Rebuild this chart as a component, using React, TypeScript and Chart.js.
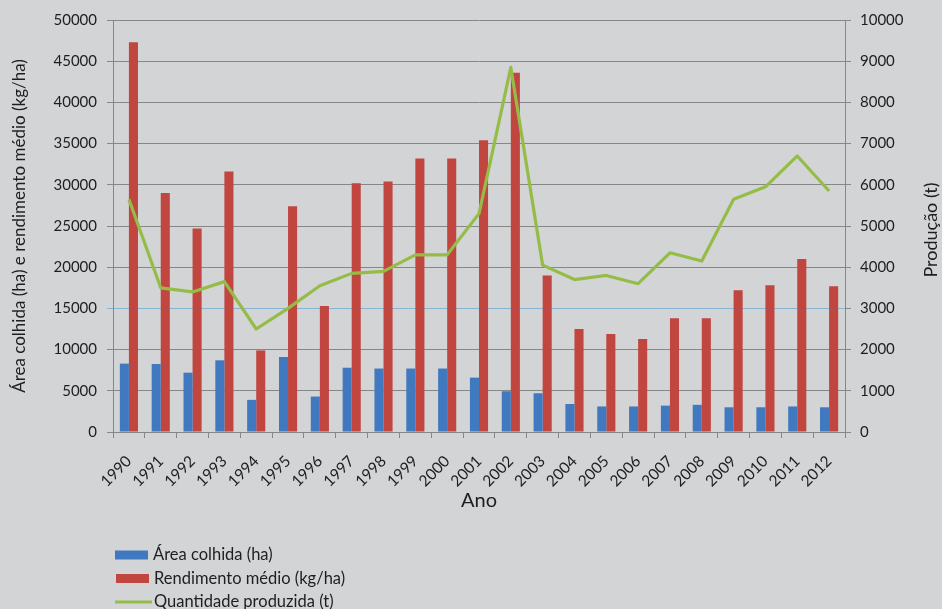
import React, { useEffect, useRef } from "react";
import { Chart, registerables } from "chart.js";

Chart.register(...registerables);

const years = ["1990","1991","1992","1993","1994","1995","1996","1997","1998","1999","2000","2001","2002","2003","2004","2005","2006","2007","2008","2009","2010","2011","2012"];
const areaColhida = [8300,8250,7200,8700,3900,9100,4300,7800,7700,7700,7700,6600,4950,4700,3400,3100,3100,3200,3300,3000,3000,3100,3000];
const rendimentoMedio = [47300,29000,24700,31600,9900,27400,15300,30200,30400,33200,33200,35400,43600,19000,12500,11900,11300,13800,13800,17200,17800,21000,17700];
const quantidadeProduzida = [5650,3500,3400,3650,2500,3000,3550,3850,3900,4300,4300,5300,8850,4050,3700,3800,3600,4350,4150,5650,5950,6700,5850];

const labelArea = "Área colhida (ha)";
const labelRend = "Rendimento médio (kg/ha)";
const labelQtd = "Quantidade produzida (t)";
const titleLeft = "Área colhida (ha) e rendimento médio (kg/ha)";
const titleRight = "Produção (t)";
const titleX = "Ano";

const FONT = "Lato, 'Open Sans', sans-serif";
const TEXT = "#1e1e1e";
const GRID = "#878787";

const legendPlugin = {
  id: "customLegend",
  afterDraw(chart: any) {
    const ctx = chart.ctx;
    ctx.save();
    ctx.font = `16.5px ${FONT}`;
    ctx.fillStyle = TEXT;
    ctx.textBaseline = "middle";
    const rows = [555, 578.5, 602];
    chart.data.datasets.forEach((ds: any, i: number) => {
      const y = rows[i];
      if (ds.type === "line") {
        ctx.strokeStyle = ds.borderColor;
        ctx.lineWidth = 3;
        ctx.beginPath();
        ctx.moveTo(115, y);
        ctx.lineTo(152, y);
        ctx.stroke();
      } else {
        ctx.fillStyle = ds.backgroundColor;
        ctx.fillRect(i === 0 ? 115 : 116, y - 4.5, 33, 9);
      }
      ctx.fillStyle = TEXT;
      ctx.textAlign = "left";
      ctx.fillText(ds.label, i === 0 ? 153 : 154, y);
    });
    // right axis title, reading bottom-to-top
    const area = chart.chartArea;
    ctx.translate(931, (area.top + area.bottom) / 2 + 4);
    ctx.rotate(-Math.PI / 2);
    ctx.font = `18px ${FONT}`;
    ctx.textAlign = "center";
    ctx.textBaseline = "middle";
    ctx.fillText(titleRight, 0, 0);
    ctx.restore();
  },
};

const plain = (v: any) => String(v);

export default function App() {
  const ref = useRef<HTMLCanvasElement>(null);
  useEffect(() => {
    document.body.style.margin = "0";
    const canvas = ref.current!;
    const chart = new Chart(canvas, {
      type: "bar",
      data: {
        labels: years,
        datasets: [
          { type: "bar", label: labelArea, data: areaColhida, backgroundColor: "#4079bf", yAxisID: "y", order: 2, barPercentage: 1, categoryPercentage: 0.57 } as any,
          { type: "bar", label: labelRend, data: rendimentoMedio, backgroundColor: "#c0463f", yAxisID: "y", order: 2, barPercentage: 1, categoryPercentage: 0.57 } as any,
          { type: "line", label: labelQtd, data: quantidadeProduzida, borderColor: "#96bc48", borderWidth: 3.2, borderJoinStyle: "round", pointRadius: 0, tension: 0, fill: false, yAxisID: "y1", order: 0 } as any,
        ],
      },
      options: {
        responsive: false,
        animation: false,
        events: [],
        layout: { padding: { top: 20, bottom: 96, left: 0, right: 0 } },
        plugins: { legend: { display: false }, tooltip: { enabled: false } },
        scales: {
          x: {
            offset: true,
            grid: { offset: true, drawOnChartArea: false, drawTicks: true, tickLength: 6, color: GRID },
            border: { display: true, color: GRID, width: 1 },
            ticks: { minRotation: 45, maxRotation: 45, autoSkip: false, color: TEXT, font: { family: FONT, size: 15.5 }, padding: 14 },
            title: { display: true, text: titleX, color: TEXT, font: { family: FONT, size: 20 }, padding: { top: 0, bottom: 0 } },
            afterFit: (s: any) => { s.height = 81; },
          },
          y: {
            position: "left",
            min: 0,
            max: 50000,
            ticks: { stepSize: 5000, color: TEXT, font: { family: FONT, size: 15 }, padding: 10, callback: plain },
            grid: {
              color: (c: any) => (c.tick && c.tick.value === 15000 ? "#86b4d4" : GRID),
              tickLength: 6,
              lineWidth: 1,
            },
            border: { display: true, color: GRID },
            title: { display: true, text: titleLeft, color: TEXT, font: { family: FONT, size: 17 }, padding: { top: 9, bottom: 0 } },
            afterFit: (s: any) => { s.width = 113; },
          },
          y1: {
            position: "right",
            min: 0,
            max: 10000,
            ticks: { stepSize: 1000, color: TEXT, font: { family: FONT, size: 15 }, padding: 9, callback: plain },
            grid: { drawOnChartArea: false, tickLength: 6, color: GRID },
            border: { display: true, color: GRID },
            title: { display: false },
            afterFit: (s: any) => { s.width = 97; },
          },
        },
      },
      plugins: [legendPlugin],
    });
    return () => chart.destroy();
  }, []);
  return (
    <div style={{ width: 942, height: 609, background: "#d3d4d6" }}>
      <canvas ref={ref} width={942} height={609} style={{ display: "block" }} />
    </div>
  );
}
